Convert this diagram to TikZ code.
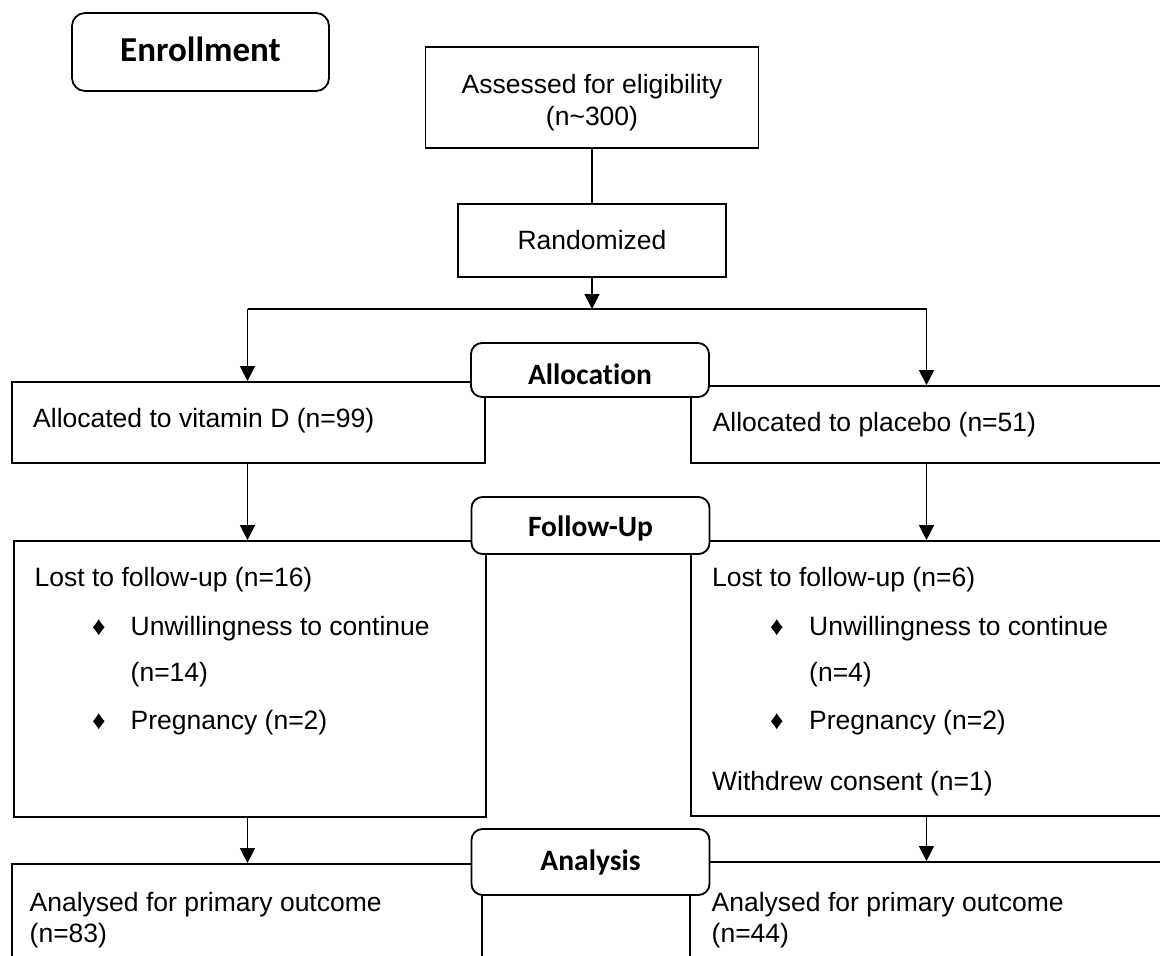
\documentclass[tikz,border=0pt]{standalone}
\usepackage{fontspec}
\setmainfont{Liberation Sans}
\newfontfamily\labelfont[Ligatures=NoCommon]{Carlito}
\usetikzlibrary{positioning,arrows.meta}

\begin{document}
\begin{tikzpicture}[x=1pt, y=-1pt,
  font=\fontsize{26.5}{31.5}\selectfont,
  box/.style={draw=black, line width=1.8pt, rectangle, inner sep=0pt},
  stage/.style={draw=black, line width=1.8pt, rounded corners=11pt, fill=white, inner sep=0pt, minimum width=238pt},
  stagetxt/.style={inner sep=0pt, font=\labelfont\bfseries\fontsize{29.5}{34}\selectfont},
  txt/.style={anchor=base west, inner sep=0pt},
  link/.style={draw=black, line width=1.5pt},
  arr/.style={link, -{Triangle[length=15pt, width=15pt]}}]
\useasboundingbox (0,0) rectangle (1160,956);
\clip (0,0) rectangle (1160,956);

\node[box, minimum width=333pt, minimum height=101pt] (assess) at (592,97.5) {};
\node[align=center, inner sep=0pt] (assesstxt) at ([yshift=-5pt]assess.center) {Assessed for eligibility\\(n\textasciitilde300)};
\node[box, minimum width=268pt, minimum height=73pt] (rand) at (592,240.5) {Randomized};

\node[box, minimum width=473pt, minimum height=81pt] (vitd) at (248.5,422.5) {};
\node[box, minimum width=484pt, minimum height=77pt] (plac) at (933,424.5) {};
\node[box, minimum width=472pt, minimum height=276pt] (lostd) at (250,679) {};
\node[box, minimum width=484pt, minimum height=275pt] (lostp) at (933,678.5) {};
\node[box, minimum width=470pt, minimum height=116pt] (anad) at (247,922) {};
\node[box, minimum width=485pt, minimum height=118pt] (anap) at (932.5,921) {};

\node[txt] (vitdtxt) at (33,427) {Allocated to vitamin D (n=99)};
\node[txt] (plactxt) at (712.5,431) {Allocated to placebo (n=51)};

\node[txt] (lostdtxt) at (34.5,586) {Lost to follow-up (n=16)};
\node[txt] (bulletd1) at (92,635) {♦};
\node[txt] (unwilld) at (130.5,635) {Unwillingness to continue};
\node[txt] (unwilldn) at (130.5,681) {(n=14)};
\node[txt] (bulletd2) at (92,729) {♦};
\node[txt] (pregd) at (130.5,729) {Pregnancy (n=2)};

\node[txt] (lostptxt) at (712,586) {Lost to follow-up (n=6)};
\node[txt] (bulletp1) at (770,635) {♦};
\node[txt] (unwillp) at (809,635) {Unwillingness to continue};
\node[txt] (unwillpn) at (809,681) {(n=4)};
\node[txt] (bulletp2) at (770,729) {♦};
\node[txt] (pregp) at (809,729) {Pregnancy (n=2)};
\node[txt] (withdrew) at (712,790) {Withdrew consent (n=1)};

\node[txt] (anadtxt) at (29.5,911) {Analysed for primary outcome};
\node[txt] (anadn) at (29.5,942) {(n=83)};
\node[txt] (anaptxt) at (711.5,911) {Analysed for primary outcome};
\node[txt] (anapn) at (711.5,942) {(n=44)};

\coordinate (split) at (592,309);
\coordinate (colL) at (247.5,309);
\coordinate (colR) at (926.5,309);

\draw[link] (assess) -- (rand);
\draw[arr] (rand) -- (split);
\draw[link] (colL) -- (colR);
\draw[arr] (colL) -- (colL |- vitd.north);
\draw[arr] (colR) -- (colR |- plac.north);
\draw[arr] (vitd.south -| colL) -- (colL |- lostd.north);
\draw[arr] (plac.south -| colR) -- (colR |- lostp.north);
\draw[arr] (lostd.south -| colL) -- (colL |- anad.north);
\draw[arr] (lostp.south -| colR) -- (colR |- anap.north);

\node[stage, minimum width=257pt, minimum height=78pt, rounded corners=13pt] (enroll) at (200.5,52) {};
\node[stagetxt, font=\labelfont\bfseries\fontsize{35}{40}\selectfont] (enrolltxt) at ([yshift=3pt]enroll.center) {Enrollment};
\node[stage, minimum height=54pt] (alloc) at (590,370) {};
\node[stagetxt] (alloctxt) at ([yshift=-4pt]alloc.center) {Allocation};
\node[stage, minimum height=57pt] (follow) at (590.5,525.5) {};
\node[stagetxt] (followtxt) at ([yshift=-3pt]follow.center) {Follow-Up};
\node[stage, minimum height=66pt] (analys) at (590.5,862) {};
\node[stagetxt] (analystxt) at (analys.center) {Analysis};

\end{tikzpicture}
\end{document}
